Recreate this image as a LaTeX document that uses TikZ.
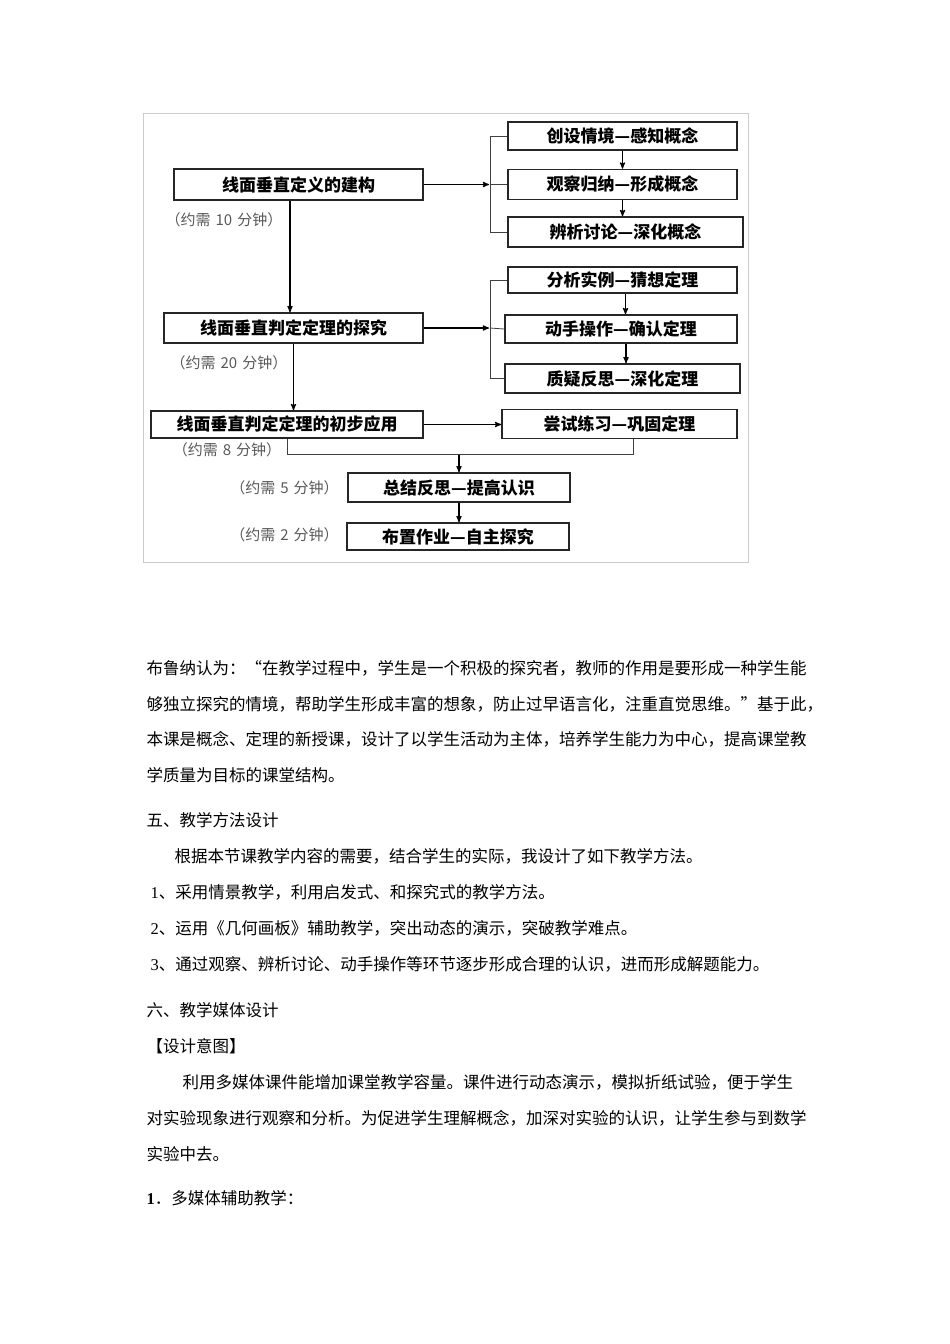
\documentclass[tikz,border=0pt]{standalone}
\usepackage{fontspec}
\setmainfont{Liberation Serif}
\newfontfamily\cjk{Noto Sans CJK SC}
\usetikzlibrary{arrows,calc,positioning}

\begin{document}
\begin{tikzpicture}[x=1pt,y=-1pt,>=stealth',line width=1.2pt,
    box/.style={draw=black!85,line width=1.6pt,fill=white,inner sep=0pt,
                font=\fontsize{17}{17}\cjk\bfseries},
    note/.style={text=black!65,inner sep=0pt,font=\fontsize{15}{15}\cjk},
    brace/.style={line width=0.8pt,draw=black!75},
    para/.style={anchor=west,inner sep=0pt,font=\fontsize{16.5}{18}\cjk}]
  \fill[white] (0,0) rectangle (950,1344);
  \useasboundingbox (0,0) rectangle (950,1344);
  \draw[black!20,line width=0.8pt] (143.5,113.5) rectangle (748,562);

  % left column
  \node[box,minimum width=249pt,minimum height=31pt] (def) at (298.5,184.5) {线面垂直定义的建构};
  \node[box,minimum width=259pt,minimum height=30pt] (expl) at (293.5,328) {线面垂直判定定理的探究};
  \node[box,minimum width=272pt,minimum height=27pt] (appl) at (287,424.5) {线面垂直判定定理的初步应用};
  \node[box,minimum width=222pt,minimum height=29pt] (sum) at (459,487.5) {总结反思—提高认识};
  \node[box,minimum width=222pt,minimum height=27pt] (hw) at (458,536.5) {布置作业—自主探究};

  \node[note] (n1) at (224,220) {（约需\hspace{5pt}10\hspace{5pt}分钟）};
  \node[note] (n2) at (229,363) {（约需\hspace{5pt}20\hspace{5pt}分钟）};
  \node[note] (n3) at (227,450) {（约需\hspace{5pt}8\hspace{5pt}分钟）};
  \node[note] (n4) at (284.5,488) {（约需\hspace{5pt}5\hspace{5pt}分钟）};
  \node[note] (n5) at (284.5,535) {（约需\hspace{5pt}2\hspace{5pt}分钟）};

  % right column
  \node[box,minimum width=229pt,minimum height=28pt] (c1) at (622.5,136) {创设情境—感知概念};
  \node[box,minimum width=229pt,minimum height=30pt] (c2) at (622.5,184.5) {观察归纳—形成概念};
  \node[box,minimum width=235pt,minimum height=30pt] (c3) at (625.5,232) {辨析讨论—深化概念};
  \node[box,minimum width=229pt,minimum height=26pt] (t1) at (622.5,280) {分析实例—猜想定理};
  \node[box,minimum width=232pt,minimum height=28pt] (t2) at (621,329) {动手操作—确认定理};
  \node[box,minimum width=235pt,minimum height=29pt] (t3) at (622.5,378.5) {质疑反思—深化定理};
  \node[box,minimum width=235pt,minimum height=29pt] (pr) at (619.5,424) {尝试练习—巩固定理};

  \coordinate (bx) at (490,0);

  % connectors
  \draw[->] ([xshift=-8.5pt]def.south) -- ([xshift=-8.5pt]def.south |- expl.north);
  \draw[->] (expl.south) -- (expl.south |- appl.north);
  \draw[->] (c1.south) -- (c1.south |- c2.north);
  \draw[->] (c2.south) -- (c2.south |- c3.north);
  \draw[->] ([xshift=3pt]t1.south) -- ([xshift=3pt]t1.south |- t2.north);
  \draw[->] ([xshift=5pt]t2.south) -- ([xshift=5pt]t2.south |- t3.north);

  \draw[brace] (c1.west) -- (c1.west -| bx) -- (c3.west -| bx) -- (c3.west);
  \draw[->] (def.east) -- ([xshift=-1pt]def.east -| bx);
  \draw[brace] (def.east -| bx) -- (c2.west);
  \draw[brace] (t1.west) -- (t1.west -| bx) -- (t3.west -| bx) -- (t3.west);
  \draw[->] (expl.east) -- ([xshift=-1pt]expl.east -| bx);
  \draw[brace] (expl.east -| bx) -- (t2.west);
  \draw[->] (appl.east) -- (appl.east -| pr.west);

  \draw[brace] (appl.south) -- ++(0,16) coordinate (jl) -| ([xshift=13.5pt]pr.south);
  \draw[->] (sum.north |- jl) -- (sum.north);
  \draw[->] (sum.south) -- (sum.south |- hw.north);

  % text below the chart
  \node[para] (p1) at (146,668) {布鲁纳认为：“在教学过程中，学生是一个积极的探究者，教师的作用是要形成一种学生能};
  \node[para] (p2) at (146,704) {够独立探究的情境，帮助学生形成丰富的想象，防止过早语言化，注重直觉思维。”基于此，};
  \node[para] (p3) at (146,739) {本课是概念、定理的新授课，设计了以学生活动为主体，培养学生能力为中心，提高课堂教};
  \node[para] (p4) at (146,775) {学质量为目标的课堂结构。};
  \node[para] (h5) at (146,820) {五、教学方法设计};
  \node[para] (p5) at (174,856) {根据本节课教学内容的需要，结合学生的实际，我设计了如下教学方法。};
  \node[para] (m1) at (150,892) {{\rmfamily 1}、采用情景教学，利用启发式、和探究式的教学方法。};
  \node[para] (m2) at (150,928) {{\rmfamily 2}、运用《几何画板》辅助教学，突出动态的演示，突破教学难点。};
  \node[para] (m3) at (150,964) {{\rmfamily 3}、通过观察、辨析讨论、动手操作等环节逐步形成合理的认识，进而形成解题能力。};
  \node[para] (h6) at (146,1010) {六、教学媒体设计};
  \node[para] (h7) at (146,1046) {【设计意图】};
  \node[para] (p6) at (182,1082) {利用多媒体课件能增加课堂教学容量。课件进行动态演示，模拟折纸试验，便于学生};
  \node[para] (p7) at (146,1118) {对实验现象进行观察和分析。为促进学生理解概念，加深对实验的认识，让学生参与到数学};
  \node[para] (p8) at (146,1154) {实验中去。};
  \node[para] (h8) at (146,1198) {{\rmfamily\bfseries 1}．多媒体辅助教学：};
\end{tikzpicture}
\end{document}
